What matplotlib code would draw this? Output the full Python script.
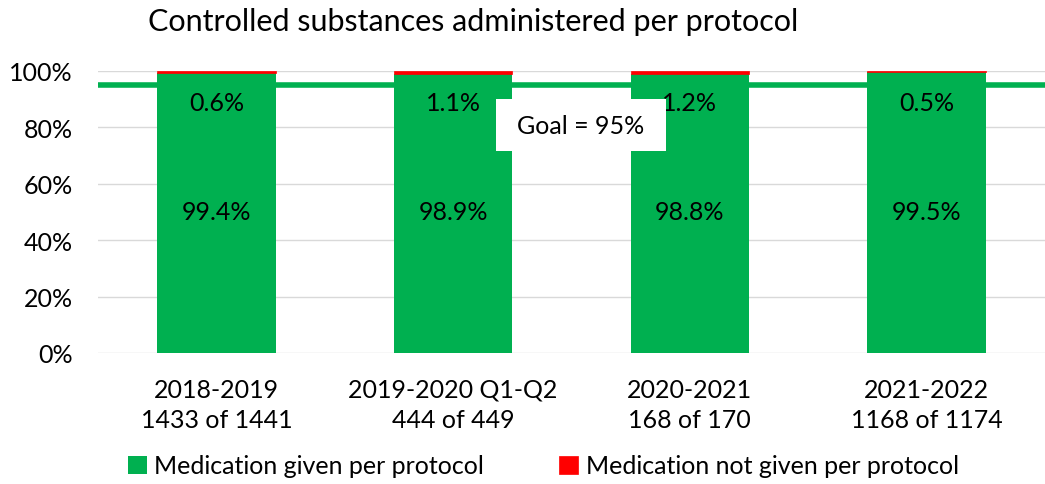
import matplotlib
matplotlib.use("Agg")
import matplotlib.pyplot as plt
from matplotlib.patches import Rectangle
import numpy as np

plt.rcParams['font.family'] = ['Lato', 'DejaVu Sans']

categories = ["2018-2019\n1433 of 1441", "2019-2020 Q1-Q2\n444 of 449",
              "2020-2021\n168 of 170", "2021-2022\n1168 of 1174"]
given = [99.4, 98.9, 98.8, 99.5]
not_given = [0.6, 1.1, 1.2, 0.5]
goal = 95

GREEN = "#00B050"
RED = "#FF0000"
FS = 18

fig = plt.figure(figsize=(10.45, 4.85), dpi=100)
ax = fig.add_axes([98 / 1045, 1 - 354 / 485, 947 / 1045, 282 / 485])

x = np.arange(len(categories))
g = np.array(given) / 100
r = np.array(not_given) / 100
ax.bar(x, g, width=0.5, color=GREEN, label="Medication given per protocol", zorder=2)
ax.bar(x, r, width=0.5, bottom=g, color=RED, label="Medication not given per protocol",
       zorder=2, edgecolor=RED, lw=0.5)
ax.axhline(goal / 100, color=GREEN, lw=4, zorder=3)

for xi, gv, rv in zip(x, given, not_given):
    ax.text(xi, 0.5, f"{gv:.1f}%", ha="center", va="center", fontsize=FS, zorder=4)
    ax.text(xi, 0.89, f"{rv:.1f}%", ha="center", va="center", fontsize=FS, zorder=4)

# goal label box
ax.add_patch(Rectangle((1.18, 0.716), 0.72, 0.184, facecolor="white",
                       edgecolor="none", zorder=5))
ax.text(1.54, 0.808, "Goal = 95%", ha="center", va="center", fontsize=FS, zorder=6)

ax.set_xlim(-0.5, 3.5)
ax.set_ylim(0, 1.0)
yt = np.arange(0, 1.01, 0.2)
ax.set_yticks(yt)
ax.set_yticklabels([f"{int(round(v * 100))}%" for v in yt], fontsize=FS)
ax.set_xticks(x)
ax.set_xticklabels(categories, fontsize=FS, linespacing=1.35)
ax.tick_params(axis="x", length=0, pad=18)
ax.tick_params(axis="y", length=0, pad=18)
ax.yaxis.grid(True, color="#d9d9d9", lw=1, zorder=0)
for s in ax.spines.values():
    s.set_visible(False)

fig.text(148 / 1045, 1 - 22 / 485, "Controlled substances administered per protocol",
         fontsize=22, va="center", ha="left")

fig.legend(loc="center", bbox_to_anchor=(0.52, 1 - 467 / 485), ncol=2, frameon=False,
           fontsize=FS, handlelength=0.75, handleheight=0.75, handletextpad=0.3,
           columnspacing=3)

fig.savefig("out.png", dpi=100)
